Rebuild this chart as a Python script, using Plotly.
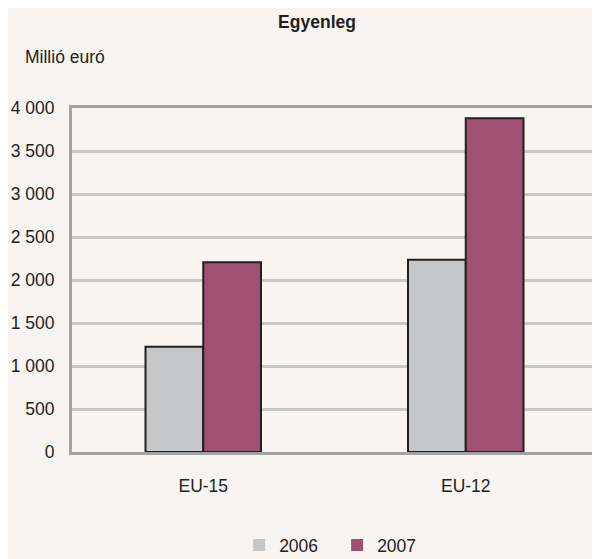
import plotly.graph_objects as go

categories = ["EU-15", "EU-12"]
years = ["2006", "2007"]
values_2006 = [1225, 2235]
values_2007 = [2205, 3880]
tick_vals = [0, 500, 1000, 1500, 2000, 2500, 3000, 3500, 4000]
tick_text = ["0", "500", "1 000", "1 500", "2 000", "2 500", "3 000", "3 500", "4 000"]
colors = ["#c6c7c9", "#a05073"]

FONT = "Liberation Sans, Arial, sans-serif"
BG = "#f7f4f2"
TXT = "#231f20"

fig = go.Figure()
for name, vals, col in zip(years, [values_2006, values_2007], colors):
    fig.add_trace(go.Bar(x=categories, y=vals, name=name, showlegend=False,
                         offsetgroup=name,
                         marker=dict(color=col, line=dict(color=TXT, width=2))))
# legend entries without outlines (share offset groups so bar layout is unchanged)
for name, col in zip(years, colors):
    fig.add_trace(go.Bar(x=[None], y=[None], name=name, showlegend=True,
                         offsetgroup=name,
                         marker=dict(color=col, line=dict(width=0))))

fig.update_layout(
    width=592, height=551,
    margin=dict(l=64, r=3, t=100, b=107, autoexpand=False),
    paper_bgcolor=BG, plot_bgcolor=BG,
    barmode="group", bargap=0.56, bargroupgap=0,
    font=dict(family=FONT, size=17.5, color=TXT),
    title=dict(text="<b>Egyenleg</b>", x=0.522, xanchor="center", y=0.975, yanchor="middle",
               font=dict(family=FONT, size=17.5, color=TXT)),
    showlegend=True,
    legend=dict(orientation="h", x=0.505, xref="paper", xanchor="center",
                y=0.025, yref="container", yanchor="middle",
                font=dict(family=FONT, size=17.5, color=TXT), bgcolor="rgba(0,0,0,0)",
                entrywidth=53, entrywidthmode="pixels"),
    annotations=[dict(text="Millió euró", xref="paper", yref="paper", x=-0.0935, y=1.148,
                      xanchor="left", yanchor="middle", showarrow=False,
                      font=dict(family=FONT, size=17.5, color=TXT))],
)
fig.update_yaxes(range=[0, 4000], tickvals=tick_vals, ticktext=tick_text,
                 showgrid=True, gridcolor="#c8c8c8", gridwidth=2.5,
                 showline=True, linecolor="#a3a3a3", linewidth=3, mirror=True,
                 zeroline=False, ticks="", ticklabelstandoff=11)
fig.update_xaxes(showline=True, linecolor="#a3a3a3", linewidth=3, mirror=True,
                 ticks="", ticklabelstandoff=16)

fig.write_html("out.html")
